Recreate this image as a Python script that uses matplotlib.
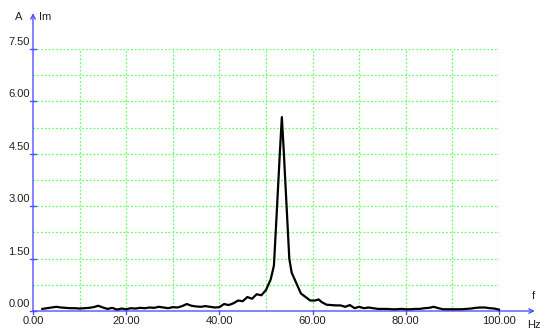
import numpy as np
import matplotlib.pyplot as plt

# spectrum
freq = [2, 3, 4, 5, 6, 7, 8, 9, 10, 11, 12, 13, 14, 15, 16, 17, 18, 19, 20,
        21, 22, 23, 24, 25, 26, 27, 28, 29, 30, 31, 32, 33, 34, 35, 36, 37,
        38, 39, 40, 41, 42, 43, 44, 45, 46, 47, 48, 49, 50, 51, 51.7, 52.3,
        53.0, 53.4, 53.8, 54.3, 55.0, 55.5, 56.5, 57.5, 58.5, 59.5, 60.5,
        61.3, 62, 63, 64, 65, 66, 67, 68, 69, 70, 71, 72, 73, 74, 75, 76, 77,
        78, 79, 80, 81, 82, 83, 84, 85, 86, 87, 88, 89, 90, 91, 92, 93, 94,
        95, 96, 97, 98, 99, 100]
amp = [0.06, 0.08, 0.10, 0.12, 0.10, 0.09, 0.08, 0.08, 0.07, 0.08, 0.09,
       0.11, 0.15, 0.10, 0.06, 0.09, 0.04, 0.07, 0.05, 0.08, 0.07, 0.09,
       0.08, 0.10, 0.09, 0.12, 0.10, 0.08, 0.11, 0.10, 0.14, 0.20, 0.15,
       0.13, 0.12, 0.14, 0.12, 0.10, 0.11, 0.20, 0.17, 0.22, 0.30, 0.28,
       0.40, 0.35, 0.48, 0.45, 0.60, 0.90, 1.30, 2.80, 4.60, 5.55, 4.60,
       3.30, 1.50, 1.10, 0.80, 0.50, 0.40, 0.30, 0.30, 0.33, 0.25, 0.18,
       0.17, 0.16, 0.16, 0.12, 0.17, 0.08, 0.12, 0.08, 0.10, 0.08, 0.06,
       0.06, 0.06, 0.05, 0.05, 0.06, 0.05, 0.05, 0.06, 0.06, 0.08, 0.09,
       0.12, 0.08, 0.05, 0.05, 0.05, 0.05, 0.05, 0.06, 0.07, 0.09, 0.10,
       0.10, 0.08, 0.07, 0.04]

xticks = [0, 20, 40, 60, 80, 100]
yticks = [0, 1.5, 3.0, 4.5, 6.0, 7.5]

plt.rcParams['font.family'] = ['Liberation Sans', 'DejaVu Sans']
axis_col = '#5050ff'
grid_col = '#66ff66'
W, H = 540, 329

fig = plt.figure(figsize=(5.4, 3.29), dpi=100)
x0, x1, y0, y1 = 33, 499, 311, 49
ax = fig.add_axes([x0 / W, 1 - y0 / H, (x1 - x0) / W, (y0 - y1) / H])
ax.set_xlim(0, 100)
ax.set_ylim(0, 7.5)
for s in ax.spines.values():
    s.set_visible(False)
ax.set_xticks([])
ax.set_yticks([])

# grid
for gx in np.arange(10, 101, 10):
    ax.axvline(gx, color=grid_col, lw=0.9, ls=(0, (1.5, 1.5)), zorder=1)
for gy in np.arange(0.75, 7.6, 0.75):
    ax.axhline(gy, color=grid_col, lw=0.9, ls=(0, (1.5, 1.5)), zorder=1)

# axes with arrows
ax.annotate('', xy=(0, 1.137), xytext=(0, 0), xycoords='axes fraction',
            arrowprops=dict(arrowstyle='->', color=axis_col, lw=1.0,
                            shrinkA=0, shrinkB=0, mutation_scale=8))
ax.annotate('', xy=(1.077, 0), xytext=(0, 0), xycoords='axes fraction',
            arrowprops=dict(arrowstyle='->', color=axis_col, lw=1.0,
                            shrinkA=0, shrinkB=0, mutation_scale=8))

# ticks and labels
for t in yticks:
    ax.plot([-0.006, 0.006], [t, t], color=axis_col, lw=1.0,
            transform=ax.get_yaxis_transform(), clip_on=False)
    ax.text(-0.007, t + 0.2, f'{t:.2f}', ha='right', va='center', fontsize=8,
            color='#202020', transform=ax.get_yaxis_transform())
for t in xticks:
    ax.plot([t, t], [-0.012, 0], color=axis_col, lw=1.0,
            transform=ax.get_xaxis_transform(), clip_on=False)
    ax.text(t, -0.038, f'{t:.2f}', ha='center', va='center', fontsize=8,
            color='#202020', transform=ax.get_xaxis_transform())

fig.text(18.5 / W, 1 - 17 / H, 'A', ha='center', va='center', fontsize=8, color='#202020')
fig.text(45 / W, 1 - 17 / H, 'Im', ha='center', va='center', fontsize=8, color='#202020')
fig.text(533 / W, 1 - 296 / H, 'f', ha='center', va='center', fontsize=8, color='#202020')
fig.text(534 / W, 1 - 325 / H, 'Hz', ha='center', va='center', fontsize=8, color='#202020')

ax.plot(freq, amp, color='black', lw=1.6, zorder=3, clip_on=False)

fig.savefig('out.png', dpi=100)
